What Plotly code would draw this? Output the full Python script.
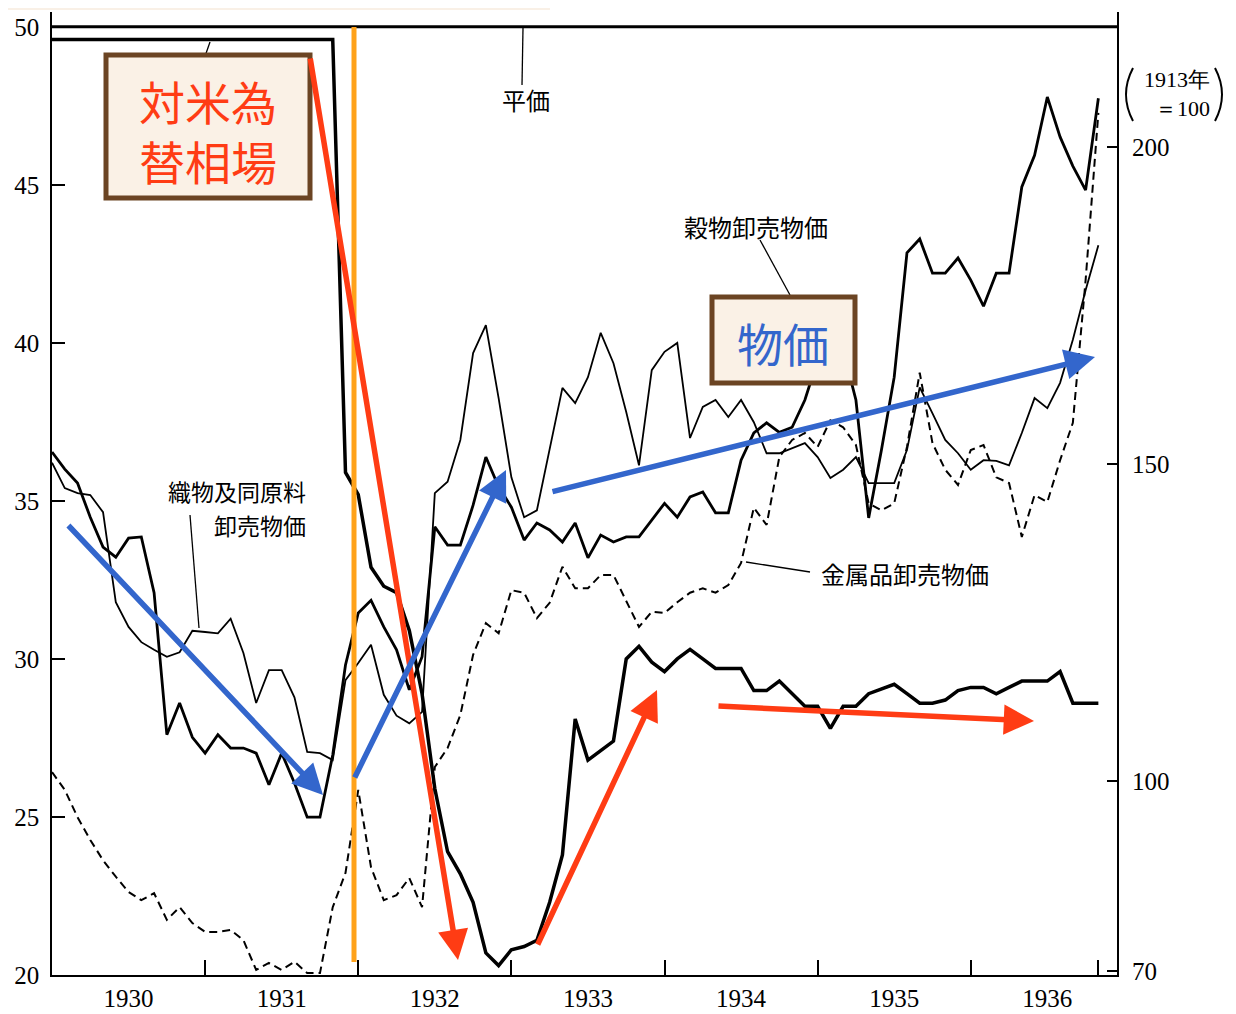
import plotly.graph_objects as go

# ---------------- data (monthly, Jan 1930 = 0 ... Nov 1936 = 82) ----------------
months = list(range(83))
year_labels = ["1930", "1931", "1932", "1933", "1934", "1935", "1936"]
year_label_pos = [6, 18, 30, 42, 54, 66, 78]          # mid-year (July)
year_tick_pos = [12, 24, 36, 48, 60, 72, 82]

left_ticks = [20, 25, 30, 35, 40, 45, 50]
right_ticks = [70, 100, 150, 200]

par_value = 50.0   # 平価

# 対米為替相場 (left axis, dollars per 100 yen)
exchange_rate = [
    49.6, 49.6, 49.6, 49.6, 49.6, 49.6, 49.6, 49.6, 49.6, 49.6, 49.6, 49.6,
    49.6, 49.6, 49.6, 49.6, 49.6, 49.6, 49.6, 49.6, 49.6, 49.6, 49.6, 35.9,
    35.2, 32.9, 32.3, 32.1, 30.9, 28.9, 25.9, 23.9, 23.2, 22.3, 20.7, 20.3,
    20.8, 20.9, 21.1, 22.3, 23.8, 28.1, 26.8, 27.1, 27.4, 30.0, 30.4, 29.9,
    29.6, 30.0, 30.3, 30.0, 29.7, 29.7, 29.7, 29.0, 29.0, 29.3, 28.9, 28.5,
    28.5, 27.8, 28.5, 28.5, 28.9, 29.05, 29.2, 28.9, 28.6, 28.6, 28.7, 29.0,
    29.1, 29.1, 28.9, 29.1, 29.3, 29.3, 29.3, 29.6, 28.6, 28.6, 28.6,
]

# 穀物卸売物価 (right axis, 1913 = 100)
grain = [
    151.9, 149.2, 147.0, 141.6, 136.9, 135.3, 138.3, 138.5, 129.7, 107.3, 112.3, 106.9,
    104.4, 107.3, 105.2, 105.2, 104.4, 99.4, 104.4, 99.7, 94.3, 94.3, 104.1, 118.3,
    126.5, 128.5, 124.3, 120.7, 114.4, 119.6, 140.1, 137.2, 137.2, 143.5, 151.1, 146.4,
    143.2, 138.0, 140.7, 139.6, 137.7, 140.7, 135.2, 138.8, 137.7, 138.5, 138.5, 141.2,
    143.8, 141.6, 144.8, 145.6, 142.3, 142.3, 150.6, 154.9, 156.5, 155.0, 155.8, 160.1,
    166.4, 171.1, 168.0, 160.1, 141.5, 152.2, 163.7, 183.3, 185.5, 180.1, 180.1, 182.5,
    179.0, 174.9, 180.1, 180.1, 193.7, 198.7, 207.9, 201.6, 197.0, 193.2, 207.7,
]

# 織物及同原料卸売物価 (right axis)
textile = [
    150.2, 146.2, 145.4, 145.1, 142.4, 128.2, 124.3, 121.9, 120.7, 119.6, 120.3, 123.7,
    123.5, 123.3, 125.6, 120.2, 112.3, 117.5, 117.5, 113.2, 104.6, 104.4, 103.3, 115.9,
    118.6, 121.5, 113.6, 110.3, 109.1, 110.9, 145.4, 147.2, 153.8, 167.5, 171.9, 160.4,
    147.9, 141.6, 142.7, 152.4, 162.0, 159.6, 163.7, 170.7, 165.9, 158.2, 149.8, 164.8,
    167.7, 169.1, 154.1, 159.0, 160.1, 157.4, 160.1, 156.6, 151.7, 151.7, 152.5, 153.3,
    151.1, 147.8, 149.1, 151.1, 147.0, 147.0, 147.0, 152.2, 162.1, 158.0, 153.8, 151.7,
    149.1, 150.6, 150.5, 149.8, 154.9, 160.4, 158.8, 162.8, 169.6, 177.4, 184.5,
]

# 金属品卸売物価 (right axis)
metal = [
    101.4, 98.6, 94.3, 90.7, 87.5, 84.9, 82.5, 81.2, 82.3, 78.1, 80.1, 77.6,
    76.2, 76.2, 76.5, 74.9, 70.2, 71.3, 70.2, 71.5, 69.7, 69.7, 80.1, 85.5,
    98.6, 86.4, 81.2, 82.0, 84.7, 80.1, 102.2, 105.2, 110.4, 119.9, 124.9, 123.3,
    130.1, 129.7, 125.7, 128.1, 133.8, 130.4, 130.4, 132.5, 132.5, 128.5, 124.3, 126.7,
    126.5, 128.2, 129.7, 130.4, 129.7, 130.9, 134.4, 143.1, 140.4, 151.1, 153.8, 154.9,
    152.7, 156.9, 155.8, 153.0, 143.8, 142.7, 143.8, 152.7, 164.4, 153.3, 149.1, 146.7,
    152.2, 153.0, 147.9, 147.0, 138.5, 145.1, 144.0, 150.6, 156.5, 179.0, 205.4,
]

X_RANGE = [0, 83.46]
LEFT_RANGE = [20, 50.47]
RIGHT_RANGE = [69.4, 221.3]

# ---------------- layout helpers (page pixel -> paper) ----------------
PAGE_W, PAGE_H = 1236, 1014
OFF = 8                       # default body margin of the html page
FIG_W, FIG_H = PAGE_W - OFF, PAGE_H - OFF
PL, PR, PT, PB = 52, 1117, 12, 975   # plot area in page pixels


def px(X):
    return (X - PL) / (PR - PL)


def py(Y):
    return (PB - Y) / (PB - PT)


SERIF = "Liberation Serif"
CJK = "Noto Sans CJK JP"
RED = "#ff3c14"
BLUE = "#3366cc"
ORANGE = "#ffa21a"
BROWN = "#6b4423"
BEIGE = "#faf1e6"

fig = go.Figure()

fig.add_trace(go.Scatter(x=X_RANGE, y=[par_value, par_value], mode="lines",
                         line=dict(color="black", width=3), yaxis="y", hoverinfo="skip"))
fig.add_trace(go.Scatter(x=months, y=metal, mode="lines", yaxis="y2",
                         line=dict(color="black", width=2, dash="8px,5px")))
fig.add_trace(go.Scatter(x=months, y=textile, mode="lines", yaxis="y2",
                         line=dict(color="black", width=1.8)))
fig.add_trace(go.Scatter(x=months, y=grain, mode="lines", yaxis="y2",
                         line=dict(color="black", width=2.8)))
fig.add_trace(go.Scatter(x=months, y=exchange_rate, mode="lines", yaxis="y",
                         line=dict(color="black", width=3.5)))

shapes = []
# beige strip at top of page
shapes.append(dict(type="rect", xref="paper", yref="paper", x0=px(OFF), x1=px(550), y0=py(10), y1=py(OFF),
                   fillcolor="#f9f0e6", line=dict(width=0), layer="above"))
# pointer lines for labels
for (x0, y0, x1, y1) in [(522, 85, 523, 28), (760, 240, 790, 295), (190, 515, 199, 628),
                         (810, 572, 746, 562), (210, 42, 203, 62)]:
    shapes.append(dict(type="line", xref="paper", yref="paper", x0=px(x0), y0=py(y0), x1=px(x1), y1=py(y1),
                       line=dict(color="black", width=1.3), layer="above"))


def paren(x_end, x_ctrl, y_top, y_bot):
    return dict(type="path", xref="paper", yref="paper", layer="above",
                path=f"M {px(x_end)},{py(y_top)} Q {px(x_ctrl)},{py((y_top + y_bot) / 2)} {px(x_end)},{py(y_bot)}",
                line=dict(color="black", width=2))


# parentheses around the "(1913年=100)" unit note
shapes.append(paren(1133, 1119, 68, 121))
shapes.append(paren(1215, 1229, 68, 121))

# orange vertical line
shapes.append(dict(type="line", xref="paper", yref="paper", x0=px(354), x1=px(354), y0=py(962), y1=py(27),
                   line=dict(color=ORANGE, width=5), layer="above"))
# boxes
shapes.append(dict(type="rect", xref="paper", yref="paper", x0=px(106), x1=px(310), y0=py(198), y1=py(55),
                   fillcolor=BEIGE, line=dict(color=BROWN, width=5), layer="above"))
shapes.append(dict(type="rect", xref="paper", yref="paper", x0=px(712), x1=px(855), y0=py(383), y1=py(297),
                   fillcolor=BEIGE, line=dict(color=BROWN, width=5), layer="above"))

annotations = []


def arrow(tail, head, color):
    return dict(x=px(head[0]), y=py(head[1]), xref="paper", yref="paper",
                ax=tail[0] - head[0], ay=tail[1] - head[1], axref="pixel", ayref="pixel",
                showarrow=True, arrowhead=2, arrowsize=1.1, arrowwidth=5.5, arrowcolor=color,
                standoff=0, text="")


annotations += [
    arrow((310, 57), (458, 960), RED),
    arrow((537, 946), (657, 690), RED),
    arrow((717, 706), (1034, 721), RED),
    arrow((67, 524), (323, 795), BLUE),
    arrow((354, 779), (506, 470), BLUE),
    arrow((551, 492), (1095, 357), BLUE),
]


def label(text, X, Y, size=24, color="black", family=CJK, align="center", xanchor="center"):
    return dict(text=text, x=px(X), y=py(Y), xref="paper", yref="paper", showarrow=False,
                font=dict(size=size, color=color, family=family), align=align,
                xanchor=xanchor, yanchor="middle")


annotations += [
    label("対米為<br>替相場", 208, 130, size=46, color=RED),
    label("物価", 783, 342, size=46, color=BLUE),
    label("平価", 526, 100),
    label("穀物卸売物価", 756, 226),
    label("織物及同原料", 308, 491, size=23, xanchor="right"),
    label("卸売物価", 308, 525, size=23, xanchor="right"),
    label("金属品卸売物価", 905, 574),
    label("1913年<br>＝100", 1212, 94, size=22, family=SERIF, align="right", xanchor="right"),
]

tickfont = dict(family=SERIF, size=25, color="black")

fig.update_layout(
    width=FIG_W, height=FIG_H,
    margin=dict(l=PL - OFF, r=PAGE_W - PR, t=PT - OFF, b=PAGE_H - PB, autoexpand=False),
    paper_bgcolor="white", plot_bgcolor="white",
    showlegend=False,
    shapes=shapes,
    annotations=annotations,
    xaxis=dict(range=X_RANGE, showline=True, linecolor="black", linewidth=2,
               tickmode="array", tickvals=year_label_pos, ticktext=year_labels, ticks="",
               tickfont=tickfont, showgrid=False, zeroline=False, ticklabelstandoff=0,
               minor=dict(tickmode="array", tickvals=year_tick_pos, ticks="inside", ticklen=15,
                          tickwidth=1.5, tickcolor="black", showgrid=False)),
    yaxis=dict(range=LEFT_RANGE, showline=True, linecolor="black", linewidth=1.5,
               tickmode="array", tickvals=left_ticks, ticks="inside", ticklen=13, tickwidth=1.5,
               tickcolor="black", tickfont=tickfont, showgrid=False, zeroline=False,
               ticklabelstandoff=6),
    yaxis2=dict(range=RIGHT_RANGE, overlaying="y", side="right", showline=True, linecolor="black",
                linewidth=2, tickmode="array", tickvals=right_ticks, ticks="inside", ticklen=10,
                tickwidth=1.5, tickcolor="black", tickfont=tickfont, showgrid=False, zeroline=False,
                ticklabelstandoff=8),
)

fig.write_html("out.html")
